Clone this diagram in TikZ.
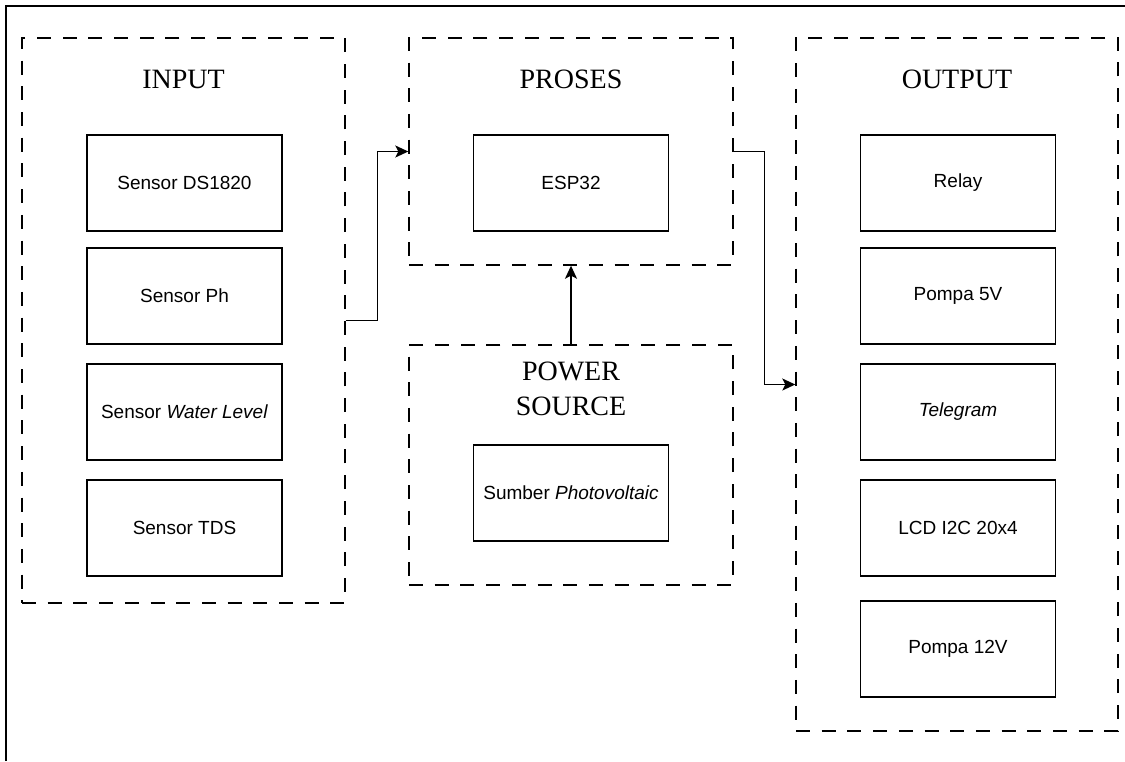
\documentclass[tikz,border=0pt]{standalone}
\usepackage{fontspec}
\setmainfont{Liberation Serif}
\setsansfont{Liberation Sans}
\usepackage{tikz}
\usetikzlibrary{arrows.meta,positioning}
\tikzset{>={Stealth[width=12pt,length=13pt,inset=3pt]}}
\tikzset{
  grup/.style={draw, line width=1.4pt, dash pattern=on 14pt off 11.7pt,
    minimum width=#1, inner sep=0pt},
  kotak/.style={draw, line width=1.4pt, minimum width=195pt, minimum height=96pt,
    inner sep=0pt, font=\sffamily\fontsize{19}{23}\selectfont},
  judul/.style={inner sep=0pt, font=\fontsize{28}{35}\selectfont}
}

\begin{document}
\begin{tikzpicture}[x=1pt, y=-1pt]

  \useasboundingbox (0,0) rectangle (1125,761);
  \draw[line width=1.5pt] (6,761) -- (6,6) -- (1125,6);

  \newcommand\XIn{184.5};
  \newcommand\XPr{571};
  \newcommand\XOut{958};

  % kelompok
  \node[grup=323pt, minimum height=565pt] (input)  at (183.5, 320.5) {};
  \node[grup=324pt, minimum height=227pt] (proses) at (571, 151.5) {};
  \node[grup=324pt, minimum height=240pt] (power)  at (571, 465) {};
  \node[grup=322pt, minimum height=693pt] (output) at (957, 384.5) {};

  \node[judul] (jin)  at (183.5, 79) {INPUT};
  \node[judul] (jpr)  at (571, 79) {PROSES};
  \node[judul, align=center] (jpw) at (571, 389) {POWER\\SOURCE};
  \node[judul] (jout) at (957, 79) {OUTPUT};

  % input
  \node[kotak] (ds)  at (\XIn, 183) {Sensor DS1820};
  \node[kotak] (ph)  at (\XIn, 296) {Sensor Ph};
  \node[kotak] (wl)  at (\XIn, 412) {Sensor \textit{Water Level}};
  \node[kotak] (tds) at (\XIn, 528) {Sensor TDS};

  % proses & power
  \node[kotak] (esp) at (\XPr, 183) {ESP32};
  \node[kotak] (pv)  at (\XPr, 493) {Sumber \textit{Photovoltaic}};

  % output
  \node[kotak] (relay) at (\XOut, 183) {Relay};
  \node[kotak] (p5)    at (\XOut, 296) {Pompa 5V};
  \node[kotak] (tele)  at (\XOut, 412) {\textit{Telegram}};
  \node[kotak] (lcd)   at (\XOut, 528) {LCD I2C 20x4};
  \node[kotak] (p12)   at (\XOut, 649) {Pompa 12V};

  \draw[->, line width=1.4pt] (input.east) -- ++(32,0) |- (proses.west);
  \draw[->, line width=1.4pt] (proses.east) -- ++(31,0) |- (output.west);
  \draw[->, line width=1.4pt] (power.north) -- (proses.south);

\end{tikzpicture}
\end{document}
